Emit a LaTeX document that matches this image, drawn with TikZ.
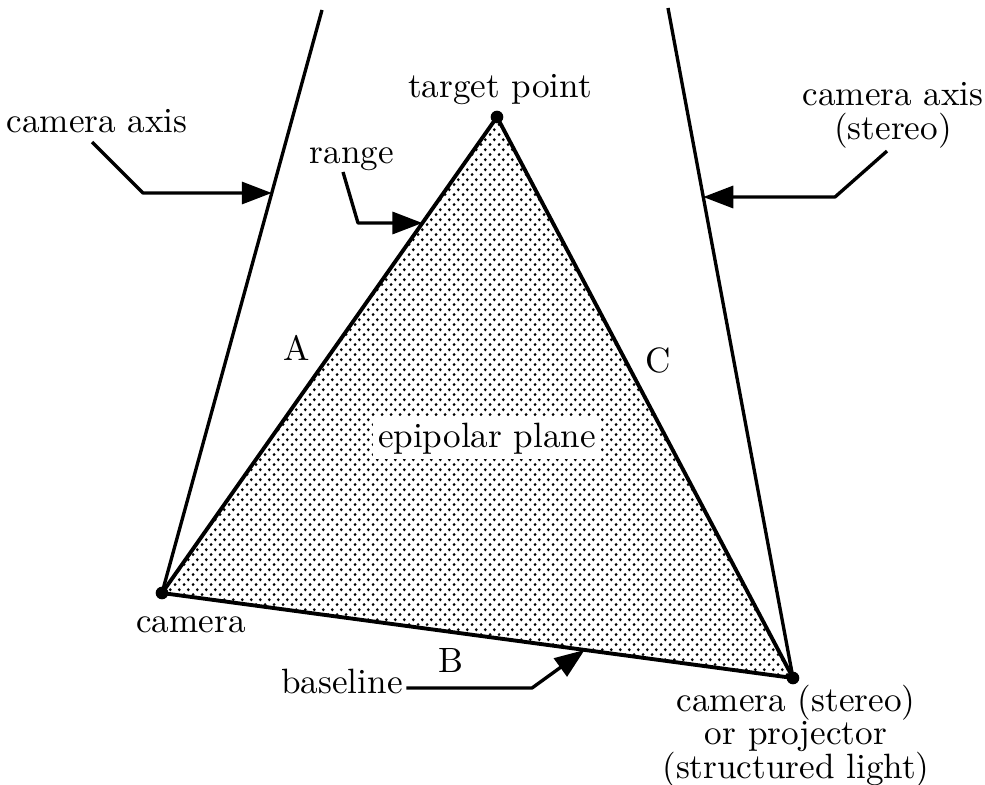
\documentclass[tikz,border=0pt]{standalone}
\usepackage{tikz}
\usetikzlibrary{arrows.meta,calc,patterns}
\pgfdeclarepatternformonly{pontilhado}{\pgfpointorigin}{\pgfqpoint{2.6pt}{2.8pt}}{\pgfqpoint{2.6pt}{2.8pt}}{%
    \pgfpathcircle{\pgfqpoint{0.65pt}{0.7pt}}{0.46pt}%
    \pgfpathcircle{\pgfqpoint{1.95pt}{2.1pt}}{0.46pt}%
    \pgfusepath{fill}}
\tikzset{
    rotulo/.style={
        inner sep=0pt,
        align=center,
        font=\fontsize{10}{9.6}\selectfont
    },
    eixo/.style={line width=0.95pt},
    lado/.style={line width=1.1pt, line join=round},
    guia/.style={line width=0.95pt, line join=round, -{Triangle[length=3mm, width=2.2mm]}},
    ponto/.style={circle, fill, inner sep=0pt, minimum size=3.6pt}
}

\begin{document}
\begin{tikzpicture}[x=0.01cm, y=-0.01cm]
    \useasboundingbox (0,0) rectangle (985,785);

    \coordinate (target) at (497,117);
    \coordinate (cam) at (162,593);
    \coordinate (stereo) at (793,678);
    \coordinate (axisLtop) at (322,10);
    \coordinate (axisRtop) at (668,8);

    % plano epipolar
    \fill[pattern=pontilhado] (cam) -- (target) -- (stereo) -- cycle;
    \node[rotulo, anchor=base, fill=white, inner sep=1.5pt] (plane) at (487,447) {epipolar plane};
    \draw[lado] (cam) -- (target) -- (stereo) -- cycle;
    \draw[eixo] (cam) -- (axisLtop);
    \draw[eixo] (stereo) -- (axisRtop);
    \node[ponto] (targetdot) at (target) {};
    \node[ponto] (camdot) at (cam) {};
    \node[ponto] (stereodot) at (stereo) {};

    % rotulos
    \node[rotulo, anchor=base] (axisL) at (97,133) {camera axis};
    \node[rotulo, anchor=north] (axisR) at (893,82) {camera axis\\(stereo)};
    \node[rotulo, anchor=base] (targetlbl) at (500,98) {target point};
    \node[rotulo, anchor=base] (range) at (352,163) {range};
    \node[rotulo, anchor=base] (camlbl) at (191,632) {camera};
    \node[rotulo, anchor=base] (baseline) at (342,693) {baseline};
    \node[rotulo, anchor=north] (stereolbl) at (796,684)
        {camera (stereo)\\or projector\\(structured light)};
    \node[rotulo, anchor=base] (sideA) at (297,360) {A};
    \node[rotulo, anchor=base] (sideB) at (451,672) {B};
    \node[rotulo, anchor=base] (sideC) at (658,372) {C};

    % setas guia
    \coordinate (axisLtip) at ($(cam)!0.6861!(axisLtop)$);
    \coordinate (axisRtip) at ($(stereo)!0.7179!(axisRtop)$);
    \coordinate (rangetip) at ($(cam)!0.7773!(target)$);
    \coordinate (basetip) at ($(cam)!0.6698!(stereo)$);
    \coordinate (axisLbend) at (143,193);
    \coordinate (axisRbend) at (835,197);
    \coordinate (rangebend) at (358,223);
    \coordinate (basebend) at (532,688);

    \draw[guia] ([shift={(-5,9)}]axisL.base) -- (axisLbend) -- (axisLtip);
    \draw[guia] ([shift={(-6,2)}]axisR.south) -- (axisRbend) -- (axisRtip);
    \draw[guia] ([shift={(-9,9)}]range.base) -- (rangebend) -- (rangetip);
    \draw[guia] ([shift={(3,-5)}]baseline.base east) -- (basebend) -- (basetip);
\end{tikzpicture}
\end{document}
